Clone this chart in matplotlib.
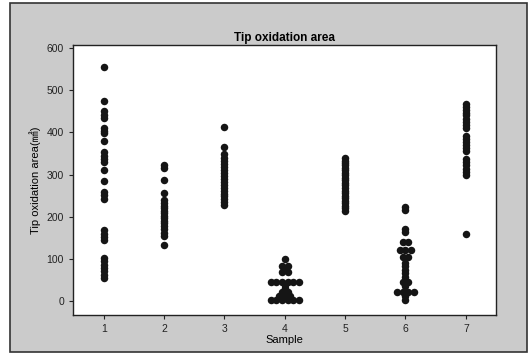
import numpy as np
import matplotlib
matplotlib.use('Agg')
import matplotlib.pyplot as plt
from matplotlib.patches import Rectangle

plt.rcParams['font.family'] = ['Liberation Sans', 'Noto Sans CJK KR', 'DejaVu Sans']

samples = [1, 2, 3, 4, 5, 6, 7]
s1 = [556, 474, 451, 440, 434, 411, 404, 398, 380, 354, 344, 337, 330, 310, 285,
      258, 252, 243, 168, 160, 152, 144, 102, 94, 86, 79, 71, 63, 55]
s2 = [323, 316, 288, 256, 240, 232, 226, 220, 214, 208, 202, 196, 190, 184, 178,
      170, 162, 155, 132]
s3 = [413, 366, 348, 340, 333, 326, 318, 311, 304, 297, 290, 283, 276, 269, 262,
      255, 248, 241, 234, 228]
s4 = [100, 84, 84, 76, 68, 68, 45, 45, 45, 45, 45, 45, 38, 30, 22, 22, 12, 12, 12,
      2, 2, 2, 2, 2, 2]
s5 = [340, 333, 328, 322, 316, 310, 304, 298, 292, 286, 280, 274, 268, 262, 256,
      250, 244, 238, 232, 226, 220, 213]
s6 = [224, 216, 170, 163, 141, 141, 121, 121, 121, 105, 105, 90, 82, 74, 66, 58,
      45, 45, 36, 22, 22, 22, 22, 12, 3]
s7 = [468, 461, 454, 447, 440, 432, 425, 418, 410, 392, 385, 378, 370, 362, 355,
      337, 330, 322, 314, 306, 300, 159]
groups = [s1, s2, s3, s4, s5, s6, s7]

fig = plt.figure(figsize=(5.32, 3.55), dpi=100)
fig.patch.set_facecolor('white')

# gray frame behind the plot
W, H = 532.0, 355.0
frame = Rectangle((10 / W, 3 / H), 517 / W, 349 / H, transform=fig.transFigure,
                  facecolor='#cbcbcb', edgecolor='#333333', linewidth=1.2, zorder=-10)
fig.patches.append(frame)

ax = fig.add_axes([73 / W, 40 / H, 423 / W, 270 / H])
ax.set_zorder(5)
ax.set_facecolor('white')

step = 0.092
for x, vals in zip(samples, groups):
    vals = np.array(vals, dtype=float)
    xs = np.full(len(vals), float(x))
    # put identical values side by side
    for v in np.unique(vals):
        idx = np.where(vals == v)[0]
        n = len(idx)
        xs[idx] = x + (np.arange(n) - (n - 1) / 2.0) * step
    ax.plot(xs, vals, 'o', color='#151515', markersize=5.4, markeredgewidth=0)

ax.set_xlim(0.49, 7.5)
ax.set_ylim(-33, 607)
ax.set_xticks(samples)
ax.set_yticks([0, 100, 200, 300, 400, 500, 600])
ax.tick_params(labelsize=7.5, length=3, width=0.8, colors='#222222')
for sp in ax.spines.values():
    sp.set_linewidth(1.0)
    sp.set_color('#222222')

ax.set_title('Tip oxidation area', fontsize=8.5, fontweight='bold', pad=3)
ax.set_xlabel('Sample', fontsize=8, labelpad=1)
ax.set_ylabel('Tip oxidation area(㎟)', fontsize=8, labelpad=4)

plt.savefig('out.png', dpi=100, facecolor=fig.get_facecolor())
